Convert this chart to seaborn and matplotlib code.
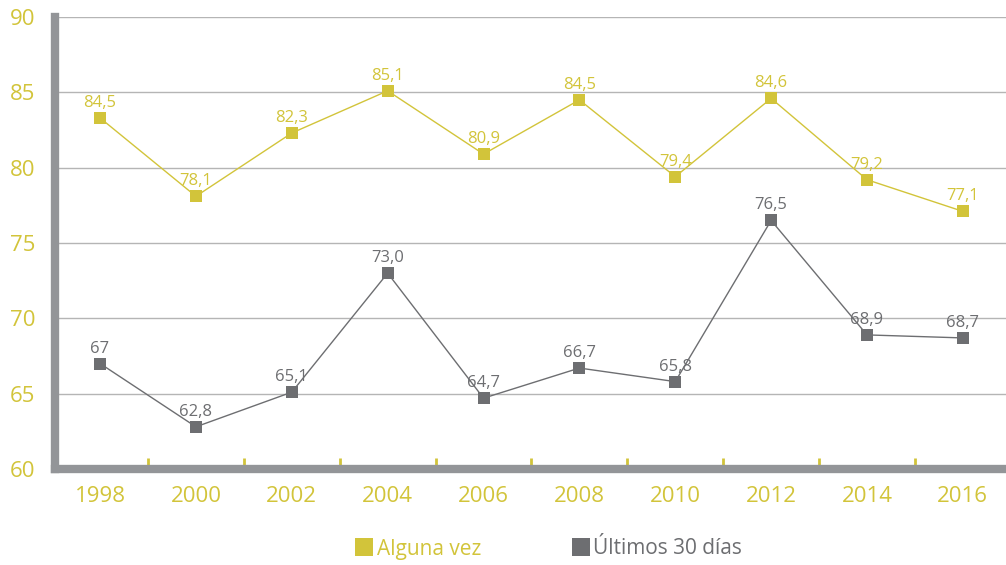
import matplotlib
matplotlib.use("Agg")
import matplotlib.pyplot as plt
from matplotlib.lines import Line2D
import seaborn as sns
import pandas as pd

years = ["1998", "2000", "2002", "2004", "2006", "2008", "2010", "2012", "2014", "2016"]
alguna_vez = [83.3, 78.1, 82.3, 85.1, 80.9, 84.5, 79.4, 84.6, 79.2, 77.1]
alguna_vez_labels = ["84,5", "78,1", "82,3", "85,1", "80,9", "84,5", "79,4", "84,6", "79,2", "77,1"]
ultimos_30 = [67.0, 62.8, 65.1, 73.0, 64.7, 66.7, 65.8, 76.5, 68.9, 68.7]
ultimos_30_labels = ["67", "62,8", "65,1", "73,0", "64,7", "66,7", "65,8", "76,5", "68,9", "68,7"]
series_names = ["Alguna vez", "Últimos 30 días"]
y_ticks = [60, 65, 70, 75, 80, 85, 90]

YELLOW = "#D2C43A"
GRAY = "#6D6E71"
SPINE = "#939598"

sns.set_theme(style="white")
plt.rcParams["font.family"] = ["Open Sans", "DejaVu Sans"]

df = pd.DataFrame({
    "pos": list(range(len(years))) * 2,
    "value": alguna_vez + ultimos_30,
    "serie": [series_names[0]] * len(years) + [series_names[1]] * len(years),
})

fig = plt.figure(figsize=(10.06, 5.65), dpi=100)
ax = fig.add_axes([55 / 1006, 1 - 469 / 565, 1 - 55 / 1006, (469 - 17) / 565])

sns.lineplot(data=df, x="pos", y="value", hue="serie",
             palette={series_names[0]: YELLOW, series_names[1]: GRAY},
             marker="s", markersize=8, markeredgewidth=0, linewidth=1,
             legend=False, ax=ax, zorder=3)

for vals, labs, col in [(alguna_vez, alguna_vez_labels, YELLOW), (ultimos_30, ultimos_30_labels, GRAY)]:
    for i, (v, l) in enumerate(zip(vals, labs)):
        ax.annotate(l, (i, v), xytext=(0, 5), textcoords="offset points",
                    ha="center", va="bottom", fontsize=12, color=col, zorder=4)

ax.set_ylim(60, 90)
ax.set_xlim(-0.47, 9.45)
ax.set_yticks(y_ticks)
ax.set_yticklabels([str(t) for t in y_ticks])
ax.set_xticks(range(len(years)))
ax.set_xticklabels(years)
ax.set_xticks([i + 0.5 for i in range(len(years) - 1)], minor=True)
ax.tick_params(axis="x", which="major", length=0, pad=12, labelsize=16, labelcolor=YELLOW)
ax.tick_params(axis="x", which="minor", length=8, width=2, color=YELLOW, direction="in", bottom=True)
ax.tick_params(axis="y", length=0, pad=14, labelsize=16, labelcolor=YELLOW)
ax.set_xlabel("")
ax.set_ylabel("")

ax.yaxis.grid(True, color="#B5B5B5", linewidth=1)
ax.xaxis.grid(False)
for s in ["top", "right"]:
    ax.spines[s].set_visible(False)
for s in ["left", "bottom"]:
    ax.spines[s].set_linewidth(6)
    ax.spines[s].set_color(SPINE)

handles = [Line2D([], [], marker="s", linestyle="none", markersize=13, markeredgewidth=0, color=YELLOW),
           Line2D([], [], marker="s", linestyle="none", markersize=13, markeredgewidth=0, color=GRAY)]
leg = fig.legend(handles, series_names, loc="center", bbox_to_anchor=(548 / 1006, 1 - 549 / 565),
                 ncol=2, frameon=False, fontsize=15, handletextpad=0.1, columnspacing=4.3,
                 handlelength=1.0)
for t, c in zip(leg.get_texts(), [YELLOW, GRAY]):
    t.set_color(c)

fig.savefig("out.png", dpi=100)
